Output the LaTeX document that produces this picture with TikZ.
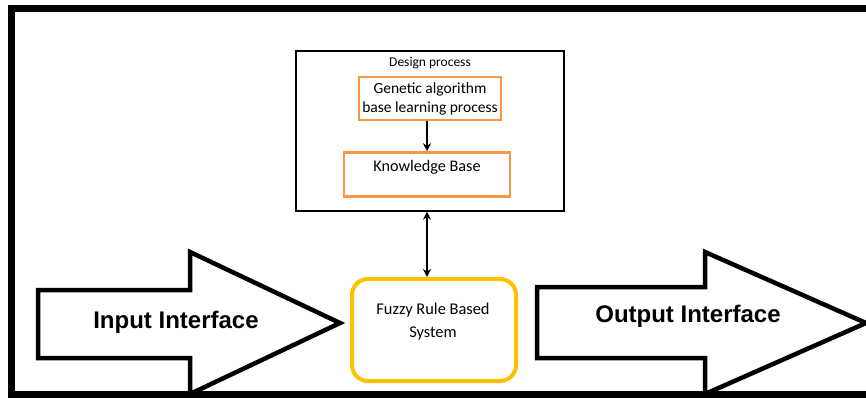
\documentclass[tikz,border=0pt]{standalone}
\usepackage{fontspec}
\setmainfont{Carlito}
\newfontfamily\arialfont{Liberation Sans}
\usetikzlibrary{arrows.meta}
\definecolor{boxorange}{HTML}{F79646}
\definecolor{boxyellow}{HTML}{FFC000}
\tikzset{
  orangebox/.style={draw=boxorange, line width=2.5pt, inner sep=0pt},
  bigarrow/.style={draw, line width=4.5pt, line join=miter, fill=white},
  arrowtext/.style={font=\arialfont\bfseries\fontsize{24}{27}\selectfont},
  smalltext/.style={font=\fontsize{15.5}{19}\selectfont, align=center, inner sep=0pt},
  link/.style={line width=2.2pt, -{Stealth[length=8pt,width=8pt]}},
}
\begin{document}
\begin{tikzpicture}[x=1pt,y=-1pt]
  \useasboundingbox (0,0) rectangle (866,398);
  \clip (0,0) rectangle (866,398);
  % outer frame, open on the right
  \draw[line width=7pt] (880,9) -- (11,9) -- (11,394) -- (880,394);

  % design process
  \node[draw, line width=1.3pt, minimum width=268pt, minimum height=160pt] (design) at (430,131) {};
  \node[smalltext, font=\fontsize{13.5}{15}\selectfont] (designlabel) at (430,63) {Design process};
  \node[orangebox, minimum width=142pt, minimum height=43pt] (gen) at (430,98.5) {};
  \node[smalltext] (gentext) at (430,99) {Genetic algorithm\\base learning process};
  \node[orangebox, minimum width=166pt, minimum height=44pt] (kb) at (427,174.5) {};
  \node[smalltext, font=\fontsize{16.2}{19}\selectfont] (kbtext) at (427,167) {Knowledge Base};

  % big arrows
  \draw[bigarrow] (38,290) -- (190,290) -- (190,252) -- (340,323) -- (190,394) -- (190,358) -- (38,358) -- cycle;
  \node[arrowtext] (input) at (176,322) {Input Interface};
  \draw[bigarrow] (537,287) -- (705,287) -- (705,252) -- (866,323) -- (705,394) -- (705,358) -- (537,358) -- cycle;
  \node[arrowtext] (output) at (688,316) {Output Interface};

  % fuzzy rule based system
  \node[draw=boxyellow, line width=4pt, rounded corners=16pt, minimum width=164pt, minimum height=102pt] (fuzzy) at (434,330) {};
  \node[smalltext, font=\fontsize{16.4}{23}\selectfont] (fuzzytext) at (433,321.5) {Fuzzy Rule Based\\System};

  % links
  \draw[link] (gen.south -| kb) -- (kb.north);
  \draw[link, {Stealth[length=8pt,width=8pt]}-{Stealth[length=8pt,width=8pt]}] (design.south -| kb) -- (fuzzy.north -| kb);
\end{tikzpicture}
\end{document}
